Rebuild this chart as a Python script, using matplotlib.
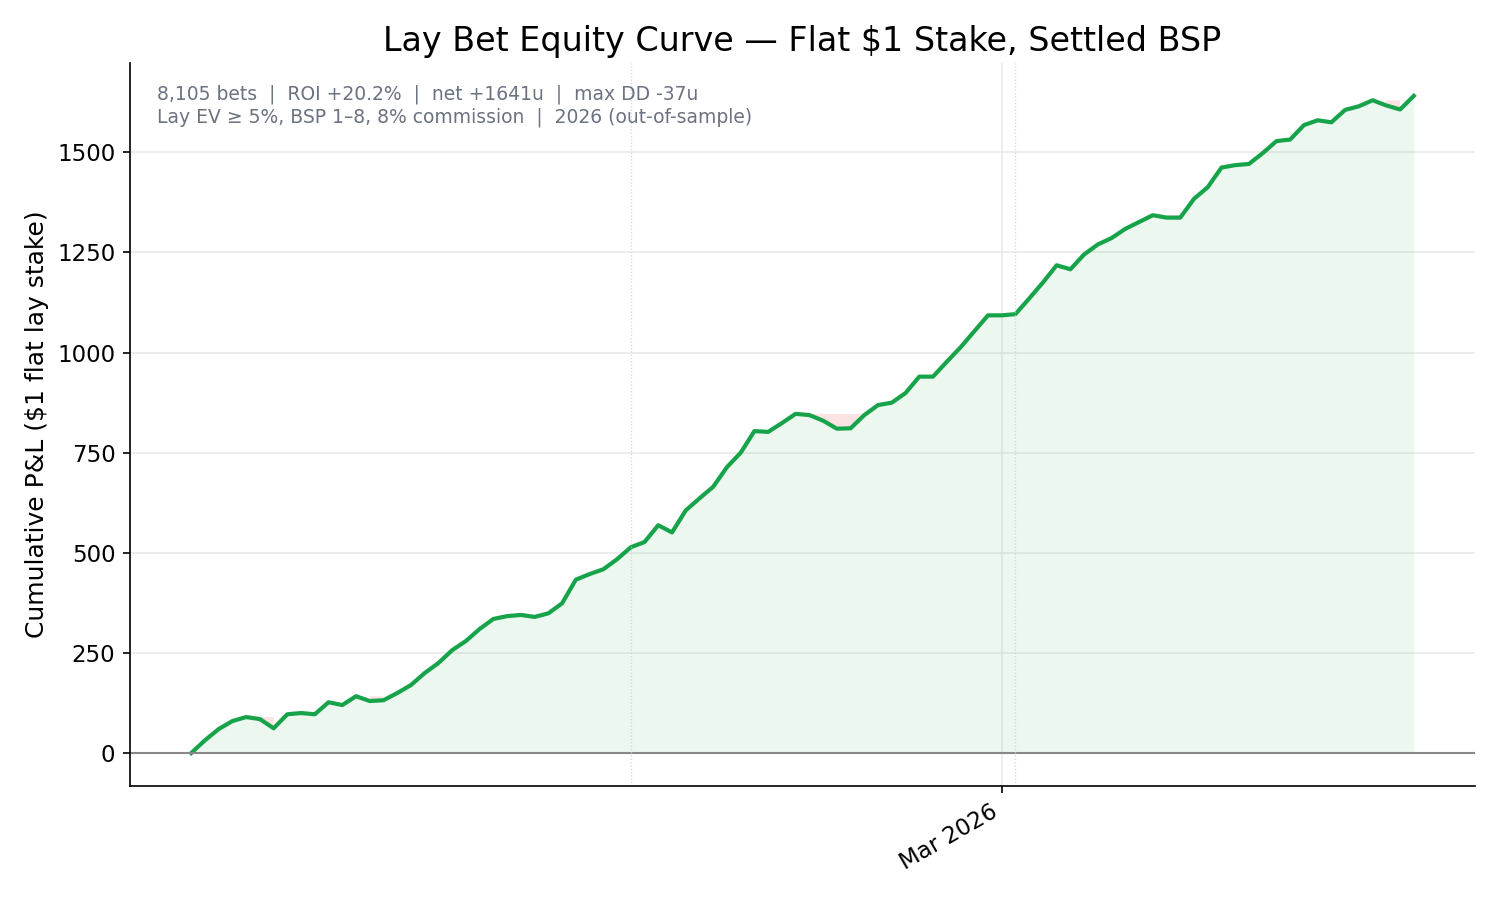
import numpy as np
import pandas as pd
import matplotlib
matplotlib.use("Agg")
import matplotlib.pyplot as plt
import matplotlib.dates as mdates

# cumulative P&L per day, Jan 1 - Mar 31 2026
dates = pd.date_range("2026-01-01", periods=90, freq="D")
cum_pnl = [
    0, 32, 60, 80, 90, 85, 62, 97, 100, 97,
    127, 120, 142, 130, 132, 150, 170, 200, 225, 257,
    280, 310, 335, 342, 345, 340, 349, 374, 433, 447,
    459, 484, 514, 527, 569, 551, 606, 636, 665, 714,
    750, 804, 802, 824, 847, 844, 830, 810, 811, 844,
    869, 875, 899, 940, 940, 977, 1013, 1053, 1093, 1093,
    1096, 1135, 1175, 1218, 1208, 1245, 1270, 1286, 1309, 1326,
    1343, 1337, 1337, 1384, 1413, 1462, 1468, 1471, 1498, 1528,
    1532, 1568, 1580, 1575, 1606, 1615, 1630, 1617, 1607, 1641,
]
month_marks = ["2026-02-02", "2026-03-02"]
stats_text = ("8,105 bets  |  ROI +20.2%  |  net +1641u  |  max DD -37u\n"
              "Lay EV \u2265 5%, BSP 1\u20138, 8% commission  |  2026 (out-of-sample)")

green = "#16a34a"
red = "#ef4444"

cum = np.array(cum_pnl, dtype=float)
peak = np.maximum.accumulate(cum)

fig = plt.figure(figsize=(10, 6), dpi=150)
ax = fig.add_axes([0.0867, 0.1267, 0.8966, 0.8033])

ax.fill_between(dates, 0, cum, color=green, alpha=0.08, linewidth=0)
ax.fill_between(dates, cum, peak, where=peak > cum, color=red, alpha=0.15, linewidth=0)
ax.plot(dates, cum, color=green, linewidth=2)
ax.axhline(0, color="#888888", linewidth=1)

for d in month_marks:
    ax.axvline(pd.Timestamp(d), color="#cccccc", linestyle=":", linewidth=0.6, alpha=0.8)

ax.xaxis.set_major_locator(mdates.MonthLocator(bymonth=[3]))
ax.xaxis.set_major_formatter(mdates.DateFormatter("%b %Y"))
for lbl in ax.get_xticklabels():
    lbl.set_rotation(30)
    lbl.set_ha("right")

ax.set_yticks([0, 250, 500, 750, 1000, 1250, 1500])
ax.tick_params(labelsize=11)
ax.grid(True, color="#e5e5e5", linewidth=0.8, alpha=0.8)
ax.set_axisbelow(True)

for s in ["top", "right"]:
    ax.spines[s].set_visible(False)

ax.set_title("Lay Bet Equity Curve \u2014 Flat \\$1 Stake, Settled BSP", fontsize=16)
ax.set_ylabel("Cumulative P&L (\\$1 flat lay stake)", fontsize=12)

ax.text(0.02, 0.97, stats_text, transform=ax.transAxes, va="top", ha="left",
        fontsize=9, color="#6b7280", linespacing=1.2)

fig.savefig("out.png", dpi=150)
